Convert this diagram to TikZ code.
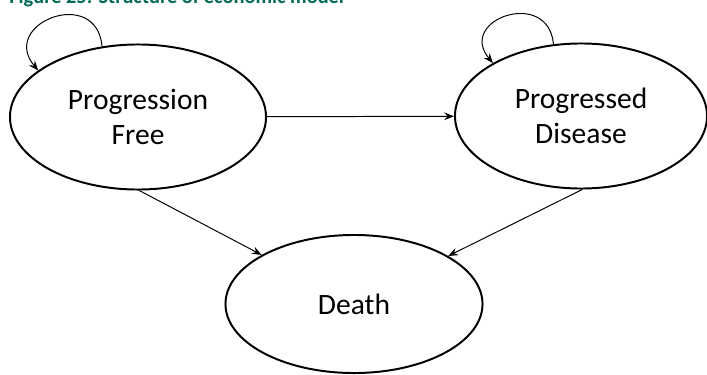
\documentclass[tikz,border=0pt]{standalone}
\usepackage{fontspec}
\setmainfont{Carlito}
\usepackage{tikz}
\usetikzlibrary{arrows.meta, positioning, shapes.geometric}
\definecolor{captiongreen}{RGB}{0,106,86}
\begin{document}
\begin{tikzpicture}[x=0.025cm, y=0.025cm,
    state/.style={draw, ellipse, line width=1.4pt, inner sep=0pt, align=center,
        font=\fontsize{21}{25}\selectfont},
    trans/.style={line width=0.7pt, -{Stealth[length=7pt, width=5.5pt, inset=2.5pt]}}]
    \useasboundingbox (0,0) rectangle (707,-374);
    % caption (cut off at top)
    \node[anchor=base west, inner sep=0pt, text=captiongreen,
        font=\bfseries\fontsize{14.5}{17}\selectfont] (cap) at (9,-3.5) {Figure 25: Structure of economic model};
    % states
    \node[state, minimum width=6.4cm, minimum height=3.625cm] (pf) at (138,-117) {Progression\\Free};
    \node[state, minimum width=6.3cm, minimum height=3.625cm] (pd) at (581,-116) {Progressed\\Disease};
    \node[state, minimum width=6.425cm, minimum height=3.45cm] (death) at (354,-304) {Death};
    % transitions
    \draw[trans] (pf.117) to[out=95, in=130, looseness=2.3] (pf.155);
    \draw[trans] (pd.111) to[out=95, in=130, looseness=2.3] (pd.149);
    \draw[trans] (pf) -- (pd);
    \draw[trans] (pf.-89) -- (death.152);
    \draw[trans] (pd.-89) -- (death.27);
\end{tikzpicture}
\end{document}
